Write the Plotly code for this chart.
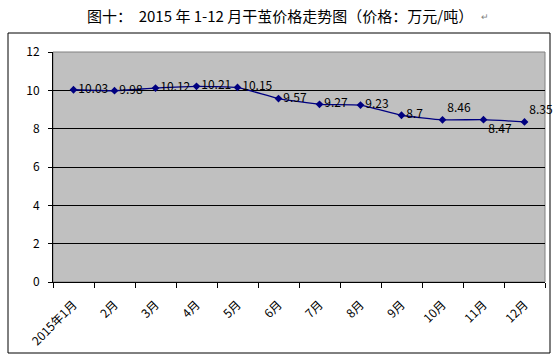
import plotly.graph_objects as go

months = ["2015年1月", "2月", "3月", "4月", "5月", "6月", "7月", "8月", "9月", "10月", "11月", "12月"]
prices = [10.03, 9.98, 10.12, 10.21, 10.15, 9.57, 9.27, 9.23, 8.7, 8.46, 8.47, 8.35]
labels = ["10.03", "9.98", "10.12", "10.21", "10.15", "9.57", "9.27", "9.23", "8.7", "8.46", "8.47", "8.35"]
positions = ["middle right"] * 9 + ["top right", "bottom right", "top right"]
title = "图十：  2015 年 1-12 月干茧价格走势图（价格：万元/吨）"

font_cjk = "SimSun, 'Noto Sans CJK SC', sans-serif"

fig = go.Figure()
fig.add_trace(go.Scatter(
    x=months, y=prices,
    mode="lines+markers+text",
    line=dict(color="#000080", width=1.3, shape="spline", smoothing=0.4),
    marker=dict(symbol="diamond", size=6, color="#000080"),
    text=labels, textposition=positions,
    textfont=dict(family=font_cjk, size=12, color="black"),
    cliponaxis=False,
    showlegend=False,
))

L, T, W, H = 53, 52, 559, 360
PW, PH = 492, 230

def px_x(p):
    return (p - L) / PW

def px_y(p):
    return (T + PH - p) / PH

fig.update_layout(
    width=W, height=H,
    margin=dict(l=L, r=W - L - PW, t=T, b=H - T - PH, pad=0, autoexpand=False),
    paper_bgcolor="white",
    plot_bgcolor="#C0C0C0",
    font=dict(family=font_cjk, size=12, color="black"),
    xaxis=dict(
        type="category", tickson="boundaries", ticks="outside", ticklen=5,
        tickcolor="black", tickangle=-45, showgrid=False,
        showline=True, linecolor="black", linewidth=1,
        tickfont=dict(size=12), range=[-0.5, 11.5], ticklabelstandoff=10,
        automargin=False,
    ),
    yaxis=dict(
        range=[0, 12], dtick=2, ticks="outside", ticklen=4, tickcolor="black",
        showgrid=True, gridcolor="black", gridwidth=1,
        showline=True, linecolor="black", linewidth=1,
        zeroline=False, tickfont=dict(size=12), ticklabelstandoff=6,
        automargin=False,
    ),
    shapes=[
        dict(type="rect", xref="paper", yref="paper",
             x0=0, x1=1, y0=0, y1=1, line=dict(color="#808080", width=1), layer="below"),
        dict(type="rect", xref="paper", yref="paper",
             x0=px_x(8), x1=px_x(550), y0=px_y(353), y1=px_y(33),
             line=dict(color="black", width=1)),
    ],
    annotations=[
        dict(text=title, xref="paper", yref="paper", x=px_x(280), y=px_y(15),
             xanchor="center", yanchor="middle", showarrow=False,
             font=dict(family=font_cjk, size=15, color="black")),
        dict(text="↵", xref="paper", yref="paper", x=px_x(485), y=px_y(16),
             xanchor="center", yanchor="middle", showarrow=False,
             font=dict(size=9, color="#808080")),
    ],
)

fig.write_html("out.html", config={"displayModeBar": False},
               post_script="document.body.style.margin='0';document.body.style.overflow='hidden';")
